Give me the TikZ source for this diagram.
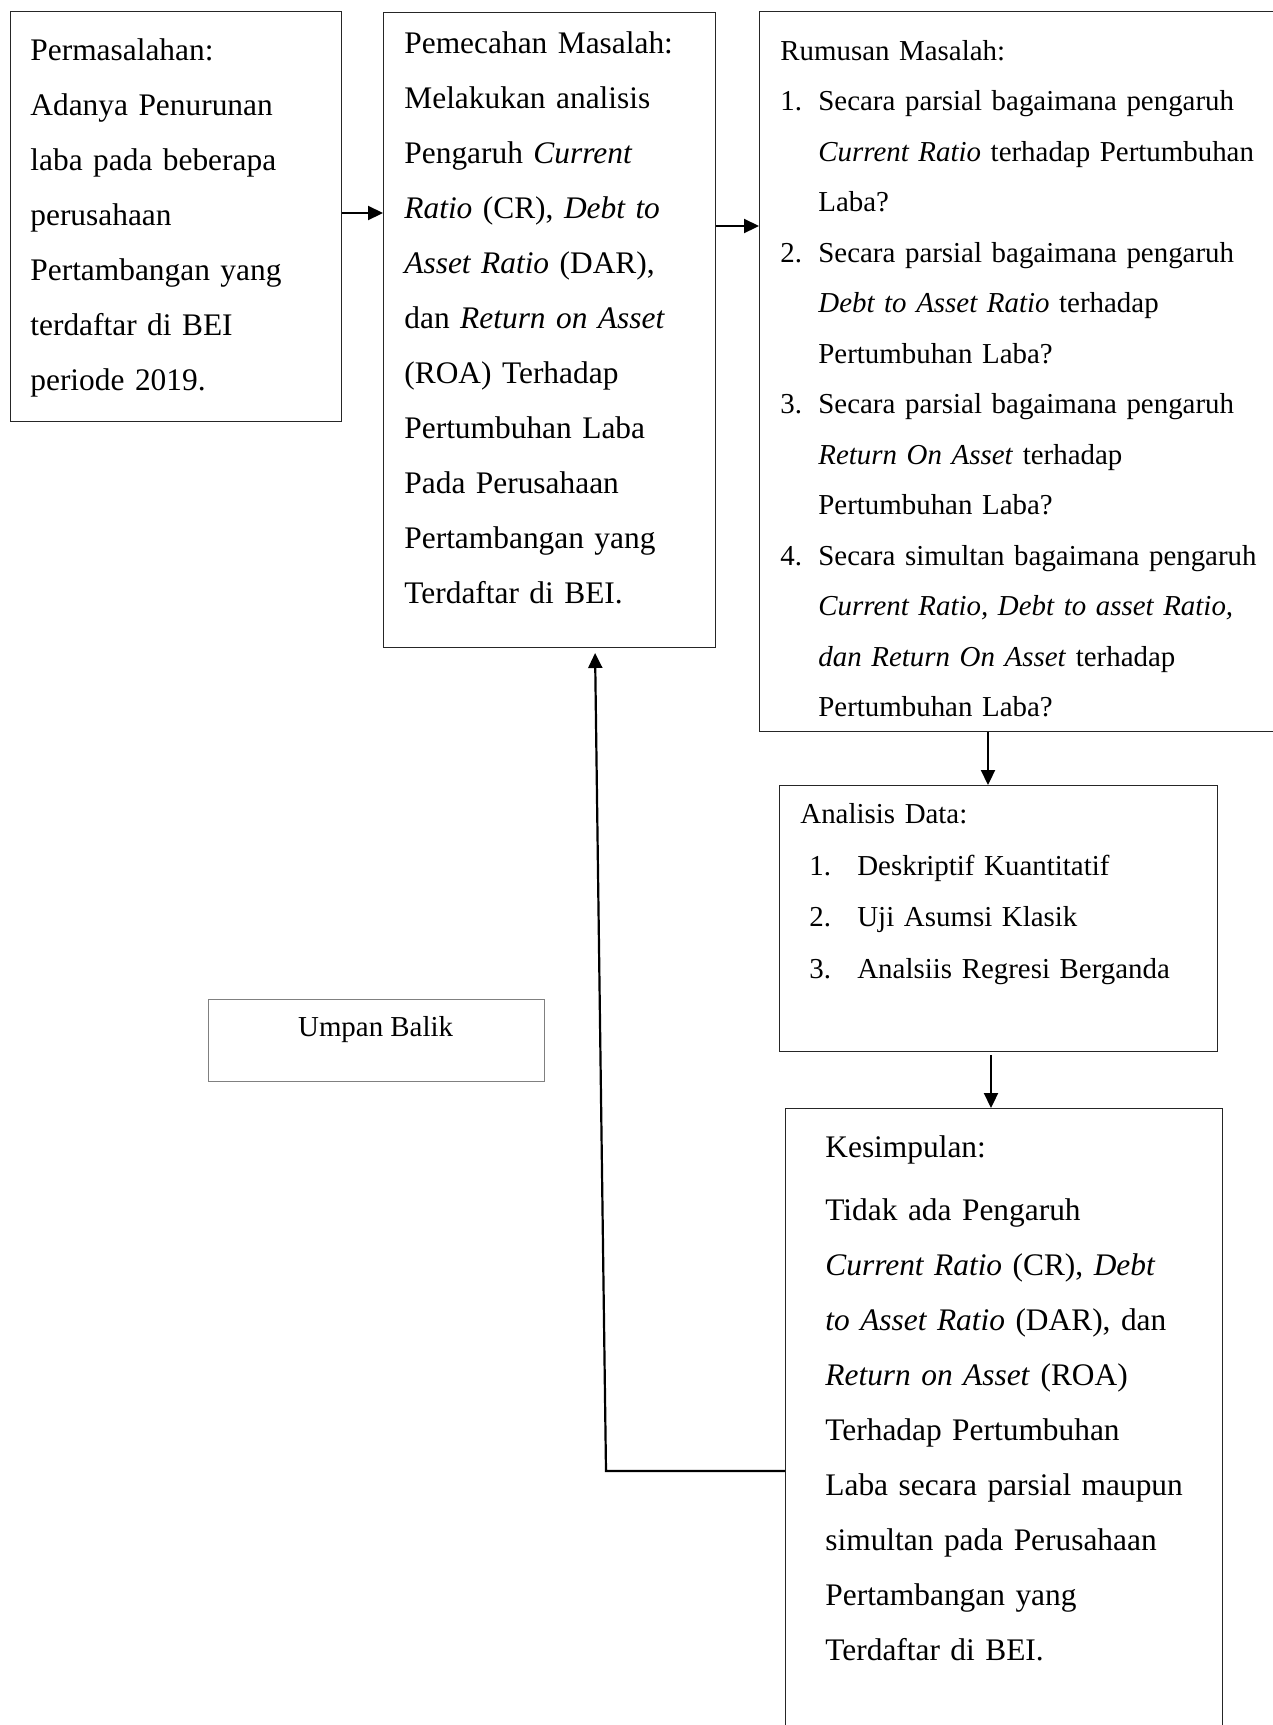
\documentclass[tikz,border=0pt]{standalone}
\usepackage{fontspec}
\setmainfont{Liberation Serif}
\usetikzlibrary{arrows.meta}
\newcommand\myitm[2][19pt]{\makebox[#1][l]{#2}}
\newcommand\myind{\hspace*{19pt}}
\begin{document}
\begin{tikzpicture}[x=0.5pt,y=-0.5pt,
  box/.style={draw=black!85, line width=0.7pt, inner sep=0pt, anchor=north west},
  graybox/.style={draw=black!50, line width=0.6pt, inner sep=0pt, anchor=north west},
  bigtxt/.style={anchor=north west, inner sep=0pt, align=left, text width=#1,
    font=\fontsize{15.7pt}{27.5pt}\selectfont},
  smalltxt/.style={anchor=north west, inner sep=0pt, align=left, text width=#1,
    font=\fontsize{14.45pt}{25.25pt}\selectfont},
  midtxt/.style={anchor=north west, inner sep=0pt, align=left, text width=#1,
    font=\fontsize{14.45pt}{25.75pt}\selectfont},
  arr/.style={line width=1.1pt, -{Triangle[length=7.5pt,width=7pt]}}
]
\useasboundingbox (0,0) rectangle (1273,1725);

% boxes
\node[box, minimum width=165.5pt, minimum height=205pt] (b1) at (10,11) {};
\node[box, minimum width=166pt, minimum height=317.5pt] (b2) at (383,12) {};
\node[box, minimum width=265.5pt, minimum height=360pt] (b3) at (759,11) {};
\node[box, minimum width=219pt, minimum height=133pt] (b4) at (779,785) {};
\node[box, minimum width=218.5pt, minimum height=326pt] (b5) at (785,1108) {};
\node[graybox, minimum width=168pt, minimum height=41pt] (ub) at (207.6,999) {};

% texts
\node[bigtxt=160pt] (t1) at (30,21.5) {\strut Permasalahan:\\
Adanya Penurunan\\
laba pada beberapa\\
perusahaan\\
Pertambangan yang\\
terdaftar di BEI\\
periode 2019.};

\node[bigtxt=160pt] (t2) at (404,14.5) {\strut Pemecahan Masalah:\\
Melakukan analisis\\
Pengaruh \textit{Current}\\
\textit{Ratio} (CR), \textit{Debt to}\\
\textit{Asset Ratio} (DAR),\\
dan \textit{Return on Asset}\\
(ROA) Terhadap\\
Pertumbuhan Laba\\
Pada Perusahaan\\
Pertambangan yang\\
Terdaftar di BEI.};

\node[smalltxt=245pt] (t3) at (780,24.65) {\strut Rumusan Masalah:\\
\myitm{1.}Secara parsial bagaimana pengaruh\\
\myind\textit{Current Ratio} terhadap Pertumbuhan\\
\myind Laba?\\
\myitm{2.}Secara parsial bagaimana pengaruh\\
\myind\textit{Debt to Asset Ratio} terhadap\\
\myind Pertumbuhan Laba?\\
\myitm{3.}Secara parsial bagaimana pengaruh\\
\myind\textit{Return On Asset} terhadap\\
\myind Pertumbuhan Laba?\\
\myitm{4.}Secara simultan bagaimana pengaruh\\
\myind\textit{Current Ratio, Debt to asset Ratio,}\\
\myind\textit{dan Return On Asset} terhadap\\
\myind Pertumbuhan Laba?};

\node[midtxt=200pt] (t4) at (800,787.5) {\strut Analisis Data:\\
\hspace*{4.5pt}\myitm[24pt]{1.}Deskriptif Kuantitatif\\
\hspace*{4.5pt}\myitm[24pt]{2.}Uji Asumsi Klasik\\
\hspace*{4.5pt}\myitm[24pt]{3.}Analsiis Regresi Berganda};

\node[bigtxt=200pt] (t5) at (825,1118.5) {\strut Kesimpulan:\\[4pt]
Tidak ada Pengaruh\\
\textit{Current Ratio} (CR), \textit{Debt}\\
\textit{to Asset Ratio} (DAR), dan\\
\textit{Return on Asset} (ROA)\\
Terhadap Pertumbuhan\\
Laba secara parsial maupun\\
simultan pada Perusahaan\\
Pertambangan yang\\
Terdaftar di BEI.};

\node[anchor=base, inner sep=0pt, font=\fontsize{14.45pt}{17pt}\selectfont] (tub) at (375.6,1036) {Umpan Balik};

% connector helpers
\coordinate (yA) at (0,226);
\coordinate (yB) at (0,213);
\coordinate (xA) at (988,0);
\coordinate (xB) at (991,0);
\coordinate (fbA) at (606,1471);
\coordinate (fbB) at (595,647);

% connectors
\draw[arr] (b1.east |- yB) -- (b2.west |- yB);
\draw[arr] (b2.east |- yA) -- (b3.west |- yA);
\draw[arr] (b3.south -| xA) -- (b4.north -| xA);
\draw[arr] ([yshift=-1.5pt]b4.south -| xB) -- (b5.north -| xB);
\draw[arr, shorten >=3pt] (b5.west |- fbA) -- (fbA) -- (fbB);
\end{tikzpicture}
\end{document}
